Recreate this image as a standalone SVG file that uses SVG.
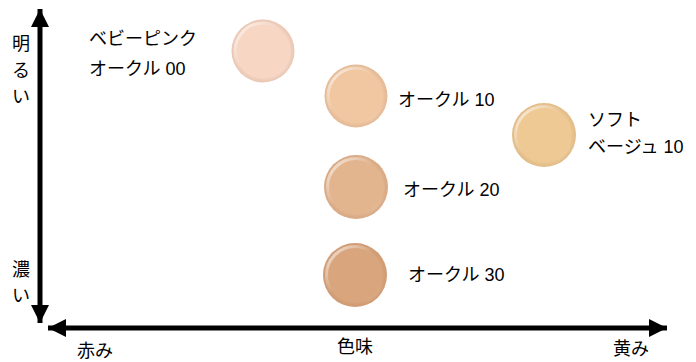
<svg xmlns="http://www.w3.org/2000/svg" width="696" height="362" viewBox="0 0 696 362">
<style>
text{font-family:"Liberation Sans","Noto Sans CJK JP",sans-serif;font-size:18px;fill:#000}
.axis{stroke:#000;stroke-width:5;fill:none}
.hl{fill:none;stroke:url(#hlg);stroke-width:3}
</style>
<defs>
<marker id="ah" markerUnits="userSpaceOnUse" viewBox="0 0 18 18" markerWidth="18" markerHeight="18" refX="18" refY="9" orient="auto-start-reverse">
<path d="M0,0 L18,9 L0,18 z" fill="#000"/>
</marker>
<linearGradient id="hlg" x1="0" y1="0" x2="1" y2="1">
<stop offset="0" stop-color="#fff" stop-opacity="0.75"/>
<stop offset="0.45" stop-color="#fff" stop-opacity="0"/>
<stop offset="0.8" stop-color="#fff" stop-opacity="0"/>
<stop offset="1" stop-color="#fff" stop-opacity="0.3"/>
</linearGradient>
<radialGradient id="shade" cx="0.5" cy="0.5" r="0.5">
<stop offset="0.85" stop-color="#000" stop-opacity="0"/>
<stop offset="1" stop-color="#a06040" stop-opacity="0.12"/>
</radialGradient>
</defs>
<g id="connectors">
<line class="axis" x1="40" y1="9" x2="40" y2="323" marker-start="url(#ah)" marker-end="url(#ah)"/>
<line class="axis" x1="48" y1="328" x2="667" y2="328" marker-start="url(#ah)" marker-end="url(#ah)"/>
</g>
<g id="axis-labels">
<text x="12" y="50">明</text>
<text x="12" y="77">る</text>
<text x="12" y="103">い</text>
<text x="12" y="276">濃</text>
<text x="12" y="302">い</text>
<text x="77" y="357">赤み</text>
<text x="337" y="353">色味</text>
<text x="613" y="355">黄み</text>
</g>
<g id="baby-pink">
<circle cx="263" cy="51" r="31.5" fill="#F7D6C4"/>
<circle cx="263" cy="51" r="31.5" fill="url(#shade)"/>
<circle class="hl" cx="263" cy="51" r="28"/>
<text x="89" y="45">ベビーピンク</text>
<text x="89" y="75">オークル 00</text>
</g>
<g id="ochre-10">
<circle cx="356" cy="96" r="31.5" fill="#F1C7A2"/>
<circle cx="356" cy="96" r="31.5" fill="url(#shade)"/>
<circle class="hl" cx="356" cy="96" r="28"/>
<text x="398" y="106">オークル 10</text>
</g>
<g id="soft-beige-10">
<circle cx="544" cy="135" r="32" fill="#EEC993"/>
<circle cx="544" cy="135" r="32" fill="url(#shade)"/>
<circle class="hl" cx="544" cy="135" r="28.5"/>
<text x="588" y="126">ソフト</text>
<text x="588" y="153">ベージュ 10</text>
</g>
<g id="ochre-20">
<circle cx="356" cy="187" r="32" fill="#E3B58F"/>
<circle cx="356" cy="187" r="32" fill="url(#shade)"/>
<circle class="hl" cx="356" cy="187" r="28.5"/>
<text x="403" y="196">オークル 20</text>
</g>
<g id="ochre-30">
<circle cx="355" cy="275" r="32" fill="#D9A57C"/>
<circle cx="355" cy="275" r="32" fill="url(#shade)"/>
<circle class="hl" cx="355" cy="275" r="28.5"/>
<text x="408" y="281">オークル 30</text>
</g>
</svg>
